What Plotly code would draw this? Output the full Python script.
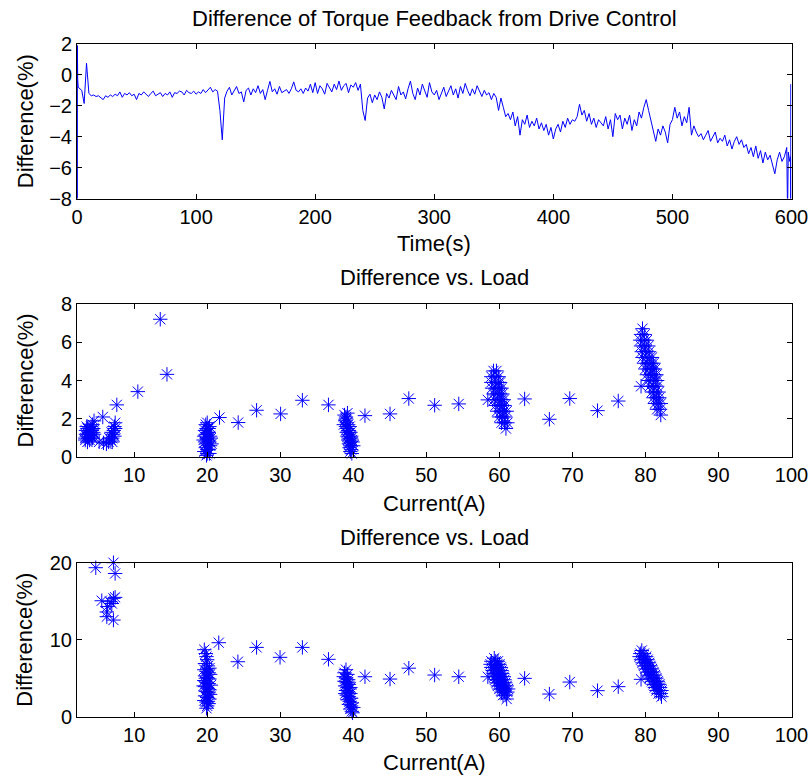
import plotly.graph_objects as go

# ---------------- Data ----------------
# Top: difference of torque feedback vs time
time_head = [0.3, 0.3, 0.6, 1]
time_mid = list(range(2, 596, 2))
time_tail = [596, 596.7, 597.3, 598.5, 599.2, 599.4, 599.4]
time_s = time_head + time_mid + time_tail

diff_head = [-9, 1.9, -0.3, -0.8]
diff_mid = [
    -0.85, -1.0, -1.85, 0.75, -1.2, -1.35, -1.3, -1.4, -1.35, -1.45,
    -1.6, -1.35, -1.45, -1.3, -1.4, -1.25, -1.35, -1.1, -1.45, -1.2,
    -1.3, -1.15, -1.35, -1.25, -1.6, -1.2, -1.3, -1.1, -1.25, -1.4,
    -1.2, -1.05, -1.35, -1.25, -1.15, -1.4, -1.2, -1.3, -1.1, -1.45,
    -1.15, -1.2, -1.05, -1.1, -1.3, -1.0, -1.15, -1.2, -1.05, -1.25,
    -1.1, -1.2, -0.95, -1.15, -1.0, -0.8, -1.1, -0.95, -1.05, -2.3,
    -4.2, -1.5, -1.05, -0.8, -1.3, -1.0, -0.75, -1.2, -1.1, -1.75,
    -1.0, -0.85, -1.3, -0.9, -1.15, -0.7, -1.2, -0.95, -1.6, -1.0,
    -0.42, -1.1, -0.9, -1.25, -0.75, -1.15, -1.05, -0.95, -1.2, -0.9,
    -0.45, -1.0, -1.1, -0.9, -1.2, -0.85, -1.05, -0.6, -1.15, -0.5,
    -1.2, -0.7, -0.9, -1.25, -0.55, -0.85, -1.1, -0.6, -0.95, -0.4,
    -1.0, -0.7, -0.55, -1.15, -0.65, -0.8, -0.5, -1.0, -0.6, -2.3,
    -2.95, -1.5, -1.25, -1.8, -1.3, -1.6, -1.1, -1.45, -2.2, -1.2,
    -1.5, -1.0, -1.35, -1.6, -0.75, -1.3, -1.1, -1.55, -0.9, -0.4,
    -1.2, -1.6, -0.85, -1.3, -0.6, -1.0, -1.45, -0.5, -1.1, -1.3,
    -1.0, -1.6, -1.2, -0.8, -1.4, -1.1, -0.7, -1.3, -0.9, -1.5,
    -0.75, -1.2, -0.55, -1.0, -1.35, -0.9, -1.25, -0.7, -1.1, -1.4,
    -1.0, -1.3, -1.15, -1.6, -1.2, -1.45, -2.3, -1.5, -2.1, -2.7,
    -2.5, -2.9, -2.4, -3.3, -2.7, -3.9, -2.9, -3.2, -2.6, -3.4,
    -3.0, -3.3, -2.8, -3.5, -3.1, -3.6, -3.2, -3.9, -3.4, -4.15,
    -3.5, -3.2, -3.7, -3.0, -3.4, -2.8, -3.2, -2.9, -3.0, -2.7,
    -1.9, -2.6, -2.3, -3.0, -2.5, -3.2, -2.8, -3.4, -2.9, -3.1,
    -3.3, -2.7, -3.5, -2.9, -4.0, -2.5, -2.9, -2.6, -3.5, -2.8,
    -3.2, -2.6, -3.6, -2.9, -3.3, -2.4, -2.8, -2.1, -1.6, -2.3,
    -3.0, -3.6, -4.3, -3.5, -3.9, -3.3, -3.7, -4.4, -3.2, -2.9,
    -2.1, -2.8, -2.4, -3.3, -2.7, -3.1, -2.1, -3.9, -3.3, -3.7,
    -4.0, -3.8, -4.2, -3.9, -3.6, -4.3, -4.0, -3.7, -4.4, -4.1,
    -4.3, -3.9, -4.6, -4.2, -4.8, -4.3, -4.0, -4.5, -4.2, -4.7,
    -4.5, -5.1, -4.7, -5.3, -4.6, -5.4, -4.9, -5.7, -5.0, -5.5,
    -5.2, -5.9, -6.4, -5.5, -5.0, -5.6, -5.3,
]
diff_tail = [-4.7, -9, -5.0, -5.6, -5.3, -9, -0.6]
diff_pct = diff_head + diff_mid + diff_tail

# Middle panel: (current A, difference %) groups
load1_low = [
    (3.3, 1.0), (3.5, 1.1), (3.7, 1.2), (3.9, 1.3), (4.1, 1.1), (4.3, 1.0), (3.4, 1.4),
    (3.6, 1.5), (3.8, 1.3), (4.0, 1.2), (4.2, 1.4), (4.4, 1.3), (3.3, 0.9), (3.6, 0.8),
    (3.9, 0.9), (4.2, 1.0), (4.5, 1.2), (3.5, 1.6), (3.8, 1.5), (4.1, 1.6), (4.4, 1.5),
    (3.4, 1.2), (3.7, 1.0), (4.0, 1.4), (4.3, 1.7), (4.5, 1.9), (5.7, 2.1),
    (5.2, 0.8), (5.8, 0.75), (6.2, 0.7), (6.5, 0.8), (6.8, 0.9), (7.0, 1.0), (7.1, 1.2),
    (7.2, 1.4), (7.3, 1.6), (7.4, 1.8), (6.9, 1.3), (7.0, 0.8), (7.3, 1.1), (6.6, 1.0),
    (7.4, 1.5), (7.62, 2.73), (10.5, 3.42), (13.57, 7.19), (14.49, 4.32),
]
load1_20 = [
    (19.6, 0.3), (19.8, 0.5), (20.0, 0.2), (20.2, 0.4), (20.4, 0.6), (19.7, 0.8), (19.9, 0.7),
    (20.1, 0.9), (20.3, 0.8), (20.5, 1.0), (19.6, 1.1), (19.8, 1.2), (20.0, 1.0), (20.2, 1.3),
    (20.4, 1.1), (19.7, 1.4), (19.9, 1.5), (20.1, 1.3), (20.3, 1.6), (19.8, 1.7), (20.0, 1.8),
    (20.2, 1.5), (19.9, 0.1), (20.1, 0.6), (20.0, 1.2), (19.5, 0.9), (20.6, 0.7), (19.9, 1.0),
    (20.0, 0.4), (20.3, 0.2),
]
load1_mid = [
    (21.68, 2.07), (24.24, 1.81), (26.76, 2.45), (30.05, 2.26), (33.03, 2.97), (36.6, 2.73),
]
load1_40 = [
    (38.8, 2.2), (39.0, 2.0), (39.2, 2.3), (38.9, 1.9), (39.1, 1.8), (39.3, 1.7), (39.0, 1.6),
    (39.2, 1.5), (39.4, 1.4), (39.1, 1.3), (39.3, 1.2), (39.5, 1.6), (39.2, 1.1), (39.4, 1.0),
    (39.6, 1.3), (39.3, 0.9), (39.5, 0.8), (39.7, 1.1), (39.4, 0.7), (39.6, 0.6), (39.8, 0.9),
    (39.5, 0.5), (39.7, 0.4), (39.9, 0.8), (39.6, 0.3), (39.8, 0.2), (40.0, 0.6), (39.7, 1.0),
    (38.7, 1.7), (39.0, 2.1), (39.3, 1.4),
]
load1_mid2 = [
    (41.6, 2.17), (45.03, 2.26), (47.6, 3.06), (51.14, 2.71), (54.44, 2.78), (58.42, 2.99),
]
load1_60 = [
    (59.2, 4.5), (59.6, 4.5), (58.9, 4.2), (59.4, 4.2), (59.9, 4.2),
    (58.9, 3.9), (59.4, 3.9), (59.9, 3.9), (60.1, 3.9),
    (59.0, 3.6), (59.5, 3.6), (60.0, 3.6), (60.3, 3.6),
    (59.2, 3.3), (59.7, 3.3), (60.1, 3.3), (60.4, 3.3),
    (59.3, 3.0), (59.8, 3.0), (60.3, 3.0), (60.6, 3.0),
    (59.5, 2.7), (60.0, 2.7), (60.4, 2.7), (60.7, 2.7),
    (59.7, 2.4), (60.2, 2.4), (60.6, 2.4), (61.0, 2.4),
    (60.0, 2.1), (60.4, 2.1), (60.8, 2.1),
    (60.3, 1.8), (60.7, 1.8), (61.1, 1.8), (60.9, 1.5),
]
load1_mid3 = [
    (63.46, 3.04), (66.85, 1.98), (69.64, 3.06), (73.44, 2.43), (76.28, 2.93),
]
load1_80 = [
    (79.6, 6.7), (79.4, 6.4), (79.9, 6.4), (79.3, 6.1), (79.8, 6.1), (80.2, 6.1),
    (79.4, 5.8), (79.9, 5.8), (80.4, 5.8), (79.5, 5.5), (80.0, 5.5), (80.5, 5.5),
    (79.6, 5.2), (80.1, 5.2), (80.6, 5.2), (80.9, 5.2),
    (79.8, 4.9), (80.3, 4.9), (80.8, 4.9), (81.1, 4.9),
    (80.0, 4.6), (80.5, 4.6), (81.0, 4.6), (81.3, 4.6),
    (80.2, 4.3), (80.7, 4.3), (81.2, 4.3), (81.5, 4.3),
    (80.4, 4.0), (80.9, 4.0), (81.4, 4.0), (81.6, 4.0),
    (79.4, 3.7), (80.6, 3.7), (81.1, 3.7), (81.6, 3.7),
    (80.9, 3.4), (81.3, 3.4), (81.8, 3.4), (81.1, 3.1), (81.5, 3.1), (81.9, 3.1),
    (81.3, 2.8), (81.8, 2.8), (82.1, 2.8), (81.6, 2.5), (82.0, 2.5), (82.1, 2.2),
]

# Bottom panel: (current A, difference %) groups
load2_low = [
    (4.74, 19.35), (7.16, 20.0), (7.39, 18.6), (5.56, 15.06), (6.25, 12.99), (7.16, 12.55),
    (7.16, 15.37), (6.7, 14.94), (6.33, 14.3), (7.39, 15.5), (6.25, 13.6), (6.94, 14.7),
]
load2_20 = [
    (19.6, 8.7), (19.8, 8.2), (19.9, 7.8), (20.0, 7.4), (19.7, 6.9), (20.1, 6.6), (20.3, 6.3),
    (19.6, 6.1), (19.9, 5.9), (20.2, 5.7), (20.4, 5.5), (19.7, 5.3), (20.0, 5.1), (20.3, 4.9),
    (19.6, 4.7), (19.9, 4.5), (20.2, 4.3), (20.5, 4.1), (19.7, 3.9), (20.0, 3.7), (20.3, 3.5),
    (19.8, 3.3), (20.1, 3.1), (20.4, 2.9), (19.7, 2.7), (20.0, 2.5), (20.3, 2.3), (19.6, 2.1),
    (19.9, 1.9), (20.2, 1.7), (20.0, 1.4), (19.9, 1.1), (20.1, 2.0), (20.0, 6.2), (19.8, 5.0),
    (20.2, 3.2), (19.5, 4.0),
]
load2_mid = [
    (21.58, 9.61), (24.2, 7.14), (26.76, 9.0), (29.97, 7.71), (33.03, 9.0), (36.6, 7.45),
]
load2_40 = [
    (39.0, 6.1), (38.8, 5.7), (39.2, 5.5), (38.7, 5.2), (39.0, 5.0), (39.3, 4.8), (38.8, 4.6),
    (39.1, 4.4), (39.4, 4.2), (38.9, 4.0), (39.2, 3.8), (39.5, 3.6), (39.0, 3.4), (39.3, 3.2),
    (39.6, 3.0), (39.1, 2.8), (39.4, 2.6), (39.7, 2.4), (39.2, 2.2), (39.5, 2.0), (39.8, 1.8),
    (39.4, 1.6), (39.7, 1.4), (40.0, 1.2), (39.6, 1.0), (39.8, 0.7), (39.9, 0.5), (39.3, 4.5),
    (39.6, 3.8), (38.9, 3.0),
]
load2_mid2 = [
    (41.6, 5.19), (45.03, 4.89), (47.6, 6.3), (51.14, 5.41), (54.44, 5.19), (58.42, 5.19),
]
load2_60 = [
    (59.3, 7.6), (58.9, 7.2), (59.5, 7.2), (59.8, 7.2),
    (58.8, 6.8), (59.3, 6.8), (59.7, 6.8), (60.0, 6.8),
    (58.9, 6.4), (59.4, 6.4), (59.8, 6.4), (60.2, 6.4),
    (59.1, 6.0), (59.6, 6.0), (60.0, 6.0), (60.3, 6.0),
    (59.2, 5.6), (59.7, 5.6), (60.1, 5.6), (60.4, 5.6),
    (59.3, 5.2), (59.8, 5.2), (60.2, 5.2), (60.6, 5.2),
    (59.4, 4.8), (59.9, 4.8), (60.3, 4.8), (60.7, 4.8),
    (59.6, 4.4), (60.0, 4.4), (60.5, 4.4), (60.8, 4.4),
    (59.8, 4.0), (60.2, 4.0), (60.6, 4.0), (61.0, 4.0),
    (60.0, 3.6), (60.4, 3.6), (60.8, 3.6), (61.2, 3.6),
    (60.3, 3.2), (60.7, 3.2), (61.1, 3.2), (60.5, 2.8), (60.9, 2.8), (61.0, 2.3),
]
load2_mid3 = [
    (63.46, 4.98), (66.85, 2.94), (69.64, 4.5), (73.44, 3.38), (76.28, 3.9), (79.4, 4.85),
]
load2_80 = [
    (79.5, 8.6), (79.3, 8.2), (79.8, 8.2), (79.2, 7.8), (79.7, 7.8), (80.1, 7.8),
    (79.4, 7.4), (79.9, 7.4), (80.3, 7.4), (79.6, 7.0), (80.1, 7.0), (80.5, 7.0),
    (79.8, 6.6), (80.3, 6.6), (80.7, 6.6), (80.0, 6.2), (80.5, 6.2), (80.9, 6.2),
    (80.2, 5.8), (80.7, 5.8), (81.1, 5.8), (80.4, 5.4), (80.9, 5.4), (81.3, 5.4),
    (80.6, 5.0), (81.1, 5.0), (81.5, 5.0), (80.9, 4.6), (81.3, 4.6), (81.7, 4.6),
    (81.1, 4.2), (81.5, 4.2), (81.9, 4.2), (81.3, 3.8), (81.7, 3.8), (82.0, 3.8),
    (81.5, 3.4), (81.9, 3.4), (82.2, 3.4), (81.8, 3.0), (82.1, 3.0), (82.2, 2.6),
]

load1_points = load1_low + load1_20 + load1_mid + load1_40 + load1_mid2 + load1_60 + load1_mid3 + load1_80
load2_points = load2_low + load2_20 + load2_mid + load2_40 + load2_mid2 + load2_60 + load2_mid3 + load2_80
load1_current = [p[0] for p in load1_points]
load1_diff = [p[1] for p in load1_points]
load2_current = [p[0] for p in load2_points]
load2_diff = [p[1] for p in load2_points]

time_ticks = [0, 100, 200, 300, 400, 500, 600]
current_ticks = [10, 20, 30, 40, 50, 60, 70, 80, 90, 100]

title_top = "Difference of Torque Feedback from Drive Control"
title_load = "Difference vs. Load"
ylabel = "Difference(%)"
xlabel_time = "Time(s)"
xlabel_current = "Current(A)"

# ---------------- Figure ----------------
W, H = 812, 776
FONT = "Liberation Sans, Arial, Helvetica, sans-serif"
TICK_SIZE = 20
LABEL_SIZE = 22
BLUE = "#0000FF"

fig = go.Figure()
fig.add_trace(go.Scatter(x=time_s, y=diff_pct, mode="lines",
                         line=dict(color=BLUE, width=1), xaxis="x", yaxis="y",
                         showlegend=False, hoverinfo="skip"))
marker = dict(symbol="asterisk-open", size=12, color=BLUE,
              line=dict(color=BLUE, width=1))
fig.add_trace(go.Scatter(x=load1_current, y=load1_diff, mode="markers",
                         marker=marker, xaxis="x2", yaxis="y2",
                         showlegend=False, cliponaxis=False, hoverinfo="skip"))
fig.add_trace(go.Scatter(x=load2_current, y=load2_diff, mode="markers",
                         marker=marker, xaxis="x3", yaxis="y3",
                         showlegend=False, cliponaxis=False, hoverinfo="skip"))


def px_x(p):
    return p / W


def px_y(p):
    return 1 - p / H


L, R = 77, 791.5
panels = [  # top px, bottom px (window pixels)
    (44, 198.5),
    (303.7, 457.3),
    (562.7, 716.7),
]

axis_common = dict(showline=True, linecolor="#000000", linewidth=1, mirror="ticks",
                   ticks="inside", ticklen=5, tickcolor="#000000", showgrid=False,
                   zeroline=False, automargin=False,
                   tickfont=dict(family=FONT, size=TICK_SIZE, color="#000000"))

xdom = [px_x(L), px_x(R)]
fig.update_layout(
    width=W, height=H,
    margin=dict(l=0, r=0, t=0, b=0, pad=0),
    paper_bgcolor="#ffffff", plot_bgcolor="#ffffff",
    font=dict(family=FONT, color="#000000"),
    hovermode=False,
    xaxis=dict(domain=xdom, range=[0, 600], tickvals=time_ticks, anchor="y", **axis_common),
    yaxis=dict(domain=[px_y(panels[0][1]), px_y(panels[0][0])], range=[-8, 2], dtick=2,
               anchor="x", **axis_common),
    xaxis2=dict(domain=xdom, range=[2.17, 100], tickvals=current_ticks, anchor="y2", **axis_common),
    yaxis2=dict(domain=[px_y(panels[1][1]), px_y(panels[1][0])], range=[0, 8], dtick=2,
                anchor="x2", **axis_common),
    xaxis3=dict(domain=xdom, range=[2.17, 100], tickvals=current_ticks, anchor="y3", **axis_common),
    yaxis3=dict(domain=[px_y(panels[2][1]), px_y(panels[2][0])], range=[0, 20], dtick=10,
                anchor="x3", **axis_common),
)

cx = px_x((L + R) / 2)
ann = []
titles = [title_top, title_load, title_load]
title_y = [18, 277, 537]
xl = [xlabel_time, xlabel_current, xlabel_current]
xl_y = [243, 503, 762]
for i in range(3):
    ann.append(dict(text=titles[i], x=cx, y=px_y(title_y[i]), xref="paper", yref="paper",
                    xanchor="center", yanchor="middle", showarrow=False,
                    font=dict(family=FONT, size=LABEL_SIZE, color="#000000")))
    ann.append(dict(text=xl[i], x=cx, y=px_y(xl_y[i]), xref="paper", yref="paper",
                    xanchor="center", yanchor="middle", showarrow=False,
                    font=dict(family=FONT, size=LABEL_SIZE, color="#000000")))
    mid = (panels[i][0] + panels[i][1]) / 2
    ann.append(dict(text=ylabel, x=px_x(25), y=px_y(mid), xref="paper", yref="paper",
                    xanchor="center", yanchor="middle", textangle=-90, showarrow=False,
                    font=dict(family=FONT, size=LABEL_SIZE, color="#000000")))
fig.update_layout(annotations=ann)

# remove the default page margin so the figure sits at the window's top-left corner
fig.write_html("out.html",
               config={"displayModeBar": False, "staticPlot": True},
               post_script="document.body.style.margin='0';document.body.style.overflow='hidden';")
